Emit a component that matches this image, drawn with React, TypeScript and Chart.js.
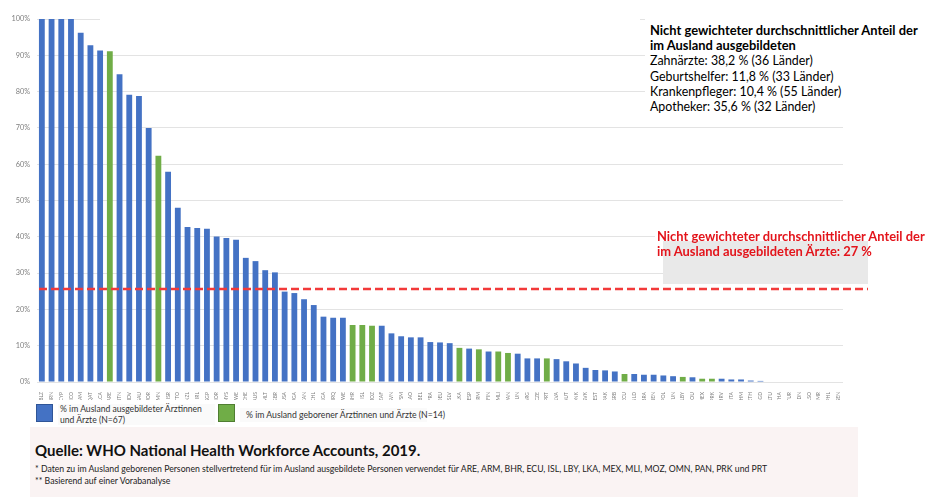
import React, { useEffect, useRef } from "react";
import { Chart, registerables } from "chart.js";

Chart.register(...registerables);

const categories = [
  "BLZ", "BRN", "CYP", "MCO", "NAM", "QAT", "LCA", "ARE", "BTN", "MDV",
  "SAU", "JOR", "OMN", "ISR", "TTO", "NZL", "IRL", "SGP", "NOR", "MYS",
  "SWE", "CHE", "AUS", "MLT", "GBR", "USA", "UGA", "CAN", "CHL", "NGA",
  "IRQ", "ZWE", "BHR", "ISL", "MOZ", "ZAF", "SVN", "FSM", "LAO", "BEL",
  "FRA", "DEU", "SLV", "LKA", "ESP", "ARM", "FIN", "MLI", "PAN", "HUN",
  "ARG", "CZE", "PRT", "LVA", "AUT", "DNK", "SVK", "EST", "PAK", "SRB",
  "ECU", "NLD", "BRA", "BEN", "POL", "TUN", "LBY", "ROU", "MEX", "PRK",
  "HRV", "ITA", "KHM", "ETH", "BGD", "LTU", "THA", "TUR", "IDN", "LSO",
  "MMR", "PHL", "SEN",
];

const values = [
  100, 100, 100, 100, 96.2, 92.8, 91.3, 91.1, 84.8, 79.1,
  78.8, 70.0, 62.3, 57.9, 48.0, 42.7, 42.4, 42.2, 40.1, 39.7,
  39.2, 34.2, 33.3, 30.8, 30.2, 24.9, 24.5, 22.8, 21.2, 18.0,
  17.7, 17.7, 15.7, 15.7, 15.5, 15.5, 13.4, 12.6, 12.3, 12.3,
  11.0, 10.9, 10.7, 9.4, 9.2, 9.0, 8.4, 8.4, 8.0, 7.8,
  6.5, 6.5, 6.5, 6.3, 5.7, 5.1, 3.9, 3.3, 3.2, 2.9,
  2.2, 2.2, 2.0, 2.0, 1.8, 1.6, 1.4, 1.3, 0.9, 0.9,
  0.9, 0.7, 0.7, 0.4, 0.3, 0, 0, 0, 0, 0,
  0, 0, 0,
];

// countries where foreign-born data is used (green bars)
const bornAbroad = [
  "ARE", "ARM", "BHR", "ECU", "ISL", "LBY", "LKA", "MEX", "MLI", "MOZ",
  "OMN", "PAN", "PRK", "PRT",
];

const yTicks = [0, 10, 20, 30, 40, 50, 60, 70, 80, 90, 100];
const averageDoctors = 25.6;

const BLUE = "#4472c4";
const GREEN = "#70ad47";

const dashedLinePlugin = {
  id: "avgLine",
  afterDatasetsDraw(chart: any) {
    const { ctx, chartArea, scales } = chart;
    const y = scales.y.getPixelForValue(averageDoctors);
    ctx.save();
    ctx.strokeStyle = "#f23a3a";
    ctx.lineWidth = 2.5;
    ctx.setLineDash([8, 4]);
    ctx.beginPath();
    ctx.moveTo(chartArea.left + 2, y);
    ctx.lineTo(868, y);
    ctx.stroke();
    ctx.restore();
  },
};

export default function App() {
  const ref = useRef<HTMLCanvasElement | null>(null);

  useEffect(() => {
    if (!ref.current) return;
    const chart = new Chart(ref.current, {
      type: "bar",
      data: {
        labels: categories,
        datasets: [
          {
            data: values,
            backgroundColor: categories.map((c) => (bornAbroad.includes(c) ? GREEN : BLUE)),
            barPercentage: 0.6,
            categoryPercentage: 1,
          },
        ],
      },
      options: {
        responsive: false,
        animation: false,
        devicePixelRatio: 1,
        layout: { padding: { top: 19, right: 85, left: 0, bottom: 0 } },
        plugins: { legend: { display: false }, tooltip: { enabled: false } },
        scales: {
          x: {
            grid: { display: false },
            border: { display: false },
            ticks: {
              autoSkip: false,
              minRotation: 90,
              maxRotation: 90,
              padding: 2,
              color: "#7f7f7f",
              font: { family: "Lato", size: 5 },
            },
            afterFit: (scale: any) => {
              scale.height = 18;
            },
          },
          y: {
            min: 0,
            max: 100,
            afterBuildTicks: (scale: any) => {
              scale.ticks = yTicks.map((v) => ({ value: v }));
            },
            grid: { color: "#e3e3e3", drawTicks: false, lineWidth: 1 },
            border: { display: false },
            ticks: {
              padding: 7,
              color: "#7f7f7f",
              font: { family: "Lato", size: 7.3 },
              callback: (v: any) => v + "%",
            },
            afterFit: (scale: any) => {
              scale.width = 37;
            },
          },
        },
      },
      plugins: [dashedLinePlugin],
    });
    return () => chart.destroy();
  }, []);

  const abs = (s: React.CSSProperties): React.CSSProperties => ({ position: "absolute", ...s });
  const font = "Lato, 'Noto Sans', sans-serif";

  return (
    <div style={{ position: "fixed", left: 0, top: 0, width: 928, height: 500, background: "#fff", fontFamily: font, overflow: "hidden" }}>
      <canvas ref={ref} width={928} height={400} style={abs({ left: 0, top: 0, width: 928, height: 400 })} />
      {/* cover top gridline */}
      <div style={abs({ left: 100, top: 15, width: 540, height: 7, background: "#fff" })} />
      {/* top-right text block */}
      <div style={abs({ left: 645, top: 14, width: 283, height: 104, background: "#fff" })} />
      <div style={abs({ left: 650, top: 23, width: 278, fontSize: 12.4, lineHeight: "15.2px", color: "#000", whiteSpace: "nowrap" })}>
        <div style={{ fontWeight: 700, fontSize: 12.9 }}>Nicht gewichteter durchschnittlicher Anteil der</div>
        <div style={{ fontWeight: 700, fontSize: 12.9 }}>im Ausland ausgebildeten</div>
        <div>Zahnärzte: 38,2 % (36 Länder)</div>
        <div>Geburtshelfer: 11,8 % (33 Länder)</div>
        <div>Krankenpfleger: 10,4 % (55 Länder)</div>
        <div>Apotheker: 35,6 % (32 Länder)</div>
      </div>
      {/* red annotation */}
      <div style={abs({ left: 655, top: 227, width: 273, height: 15, background: "#fff" })} />
      <div style={abs({ left: 663, top: 241, width: 205, height: 43, background: "#e9e9e9" })} />
      <div style={abs({ left: 657, top: 229, fontSize: 12.9, lineHeight: "14.6px", fontWeight: 700, color: "#e3141b", whiteSpace: "nowrap" })}>
        <div>Nicht gewichteter durchschnittlicher Anteil der</div>
        <div>im Ausland ausgebildeten Ärzte: 27 %</div>
      </div>
      {/* legend */}
      <div style={abs({ left: 36, top: 404, width: 15, height: 16, background: BLUE, border: "1px solid #2f5597" })} />
      <div style={abs({ left: 58, top: 404, width: 157, height: 21, background: "#fafafa" })} />
      <div style={abs({ left: 60, top: 404, fontSize: 8.6, lineHeight: "10.5px", color: "#333", whiteSpace: "nowrap" })}>
        <div>% im Ausland ausgebildeter Ärztinnen</div>
        <div>und Ärzte (N=67)</div>
      </div>
      <div style={abs({ left: 218, top: 404, width: 15, height: 16, background: GREEN, border: "1px solid #507e32" })} />
      <div style={abs({ left: 240, top: 408, width: 187, height: 14, background: "#fafafa" })} />
      <div style={abs({ left: 246, top: 409, fontSize: 8.7, lineHeight: "11px", color: "#333", whiteSpace: "nowrap" })}>
        % im Ausland geborener Ärztinnen und Ärzte (N=14)
      </div>
      {/* source box */}
      <div style={abs({ left: 30, top: 427, width: 828, height: 70, background: "#faf3f3" })} />
      <div style={abs({ left: 35, top: 441, fontSize: 15, lineHeight: "18px", fontWeight: 700, color: "#111", whiteSpace: "nowrap" })}>
        Quelle: WHO National Health Workforce Accounts, 2019.
      </div>
      <div style={abs({ left: 35, top: 463, fontSize: 8.7, lineHeight: "12px", color: "#222", whiteSpace: "nowrap" })}>
        <div>* Daten zu im Ausland geborenen Personen stellvertretend für im Ausland ausgebildete Personen verwendet für ARE, ARM, BHR, ECU, ISL, LBY, LKA, MEX, MLI, MOZ, OMN, PAN, PRK und PRT</div>
        <div>** Basierend auf einer Vorabanalyse</div>
      </div>
    </div>
  );
}
